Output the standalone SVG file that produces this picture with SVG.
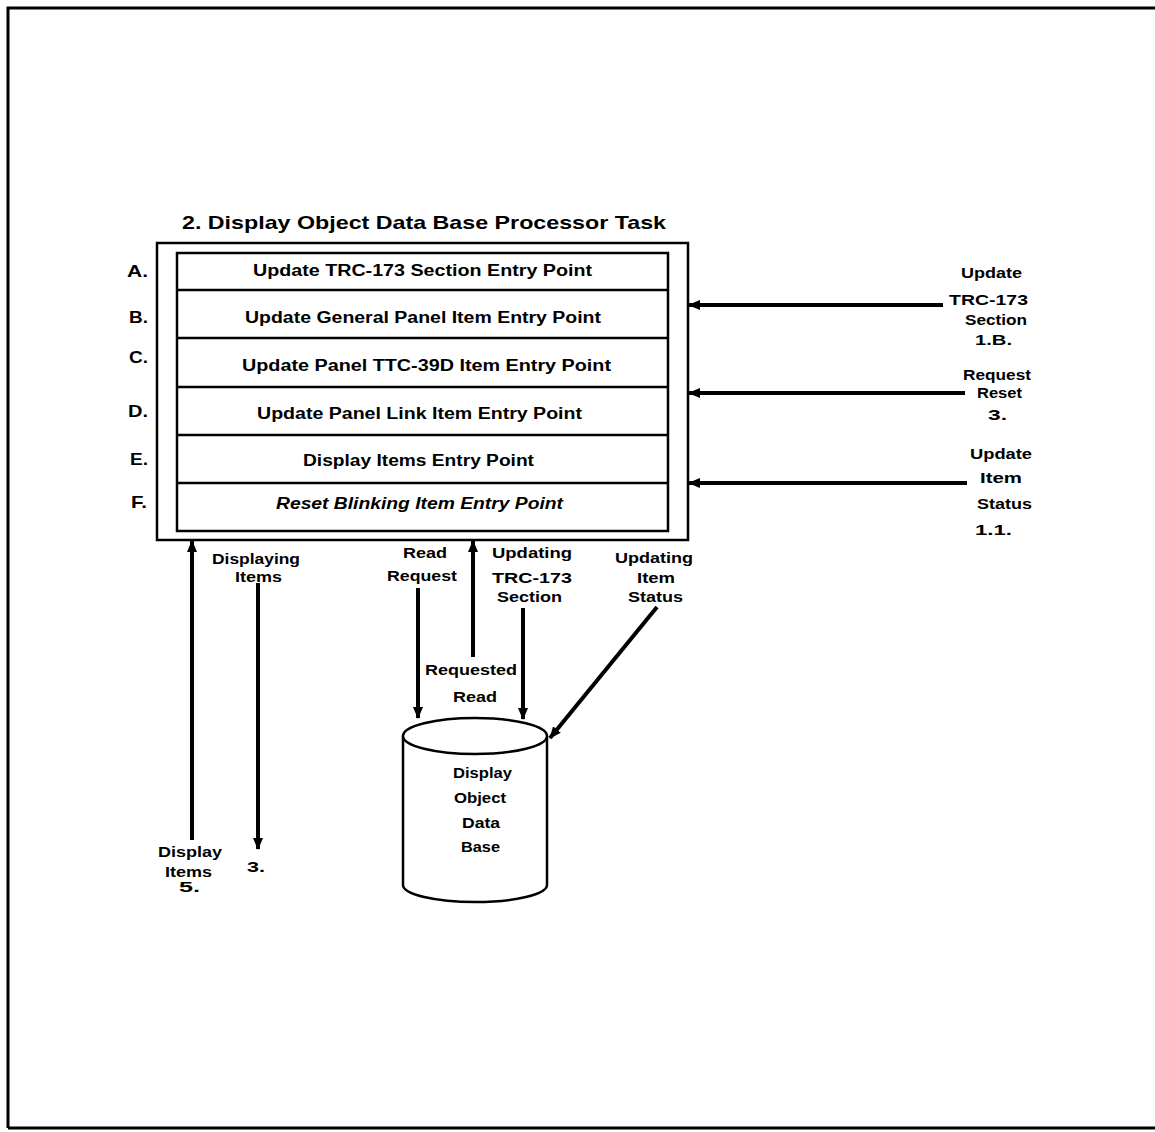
<svg xmlns="http://www.w3.org/2000/svg" width="1155" height="1132" viewBox="0 0 1155 1132">
<style>
text{font-family:"Liberation Sans",Arial,sans-serif;font-weight:bold;fill:#000}
.t{font-size:16px}
.s{font-size:15px}
.lbl{font-size:17px}
.title{font-size:19px}
.box{fill:#fff;stroke:#000;stroke-width:2.5}
.div{stroke:#000;stroke-width:2.5}
.conn{stroke:#000;stroke-width:4;fill:none}
</style>
<defs>
<marker id="ah" markerWidth="12" markerHeight="10" refX="11" refY="5" orient="auto" markerUnits="userSpaceOnUse">
<path d="M0,0 L12,5 L0,10 z" fill="#000"/>
</marker>
</defs>
<rect x="0" y="0" width="1155" height="1132" fill="#fff"/>
<path d="M8,1128 L8,8 L1160,8 M8,1128 L1160,1128" fill="none" stroke="#000" stroke-width="3"/>

<g id="task">
<text class="title" x="182" y="229" textLength="484" lengthAdjust="spacingAndGlyphs">2. Display Object Data Base Processor Task</text>
<rect class="box" x="157" y="243" width="531" height="297"/>
<rect class="box" x="177" y="253" width="491" height="278"/>
</g>

<g id="rowA">
<text class="lbl" x="127" y="277" textLength="21" lengthAdjust="spacingAndGlyphs">A.</text>
<text class="t" x="253" y="276" textLength="339" lengthAdjust="spacingAndGlyphs">Update TRC-173 Section Entry Point</text>
</g>
<g id="rowB">
<line class="div" x1="177" y1="290" x2="668" y2="290"/>
<text class="lbl" x="129" y="323" textLength="19" lengthAdjust="spacingAndGlyphs">B.</text>
<text class="t" x="245" y="323" textLength="356" lengthAdjust="spacingAndGlyphs">Update General Panel Item Entry Point</text>
</g>
<g id="rowC">
<line class="div" x1="177" y1="338" x2="668" y2="338"/>
<text class="lbl" x="129" y="363" textLength="19" lengthAdjust="spacingAndGlyphs">C.</text>
<text class="t" x="242" y="371" textLength="369" lengthAdjust="spacingAndGlyphs">Update Panel TTC-39D Item Entry Point</text>
</g>
<g id="rowD">
<line class="div" x1="177" y1="387" x2="668" y2="387"/>
<text class="lbl" x="128" y="417" textLength="20" lengthAdjust="spacingAndGlyphs">D.</text>
<text class="t" x="257" y="419" textLength="325" lengthAdjust="spacingAndGlyphs">Update Panel Link Item Entry Point</text>
</g>
<g id="rowE">
<line class="div" x1="177" y1="435" x2="668" y2="435"/>
<text class="lbl" x="130" y="465" textLength="18" lengthAdjust="spacingAndGlyphs">E.</text>
<text class="t" x="303" y="466" textLength="231" lengthAdjust="spacingAndGlyphs">Display Items Entry Point</text>
</g>
<g id="rowF">
<line class="div" x1="177" y1="483" x2="668" y2="483"/>
<text class="lbl" x="131" y="508" textLength="16" lengthAdjust="spacingAndGlyphs">F.</text>
<text class="t" x="276" y="509" font-style="italic" textLength="287" lengthAdjust="spacingAndGlyphs">Reset Blinking Item Entry Point</text>
</g>

<g id="database">
<path d="M403,736 L403,885 A72,17 0 0 0 547,885 L547,736" fill="#fff" stroke="#000" stroke-width="2.5"/>
<ellipse cx="475" cy="736" rx="72" ry="18" fill="#fff" stroke="#000" stroke-width="2.5"/>
<text class="s" x="453" y="778" textLength="59" lengthAdjust="spacingAndGlyphs">Display</text>
<text class="s" x="454" y="803" textLength="52" lengthAdjust="spacingAndGlyphs">Object</text>
<text class="s" x="462" y="828" textLength="38" lengthAdjust="spacingAndGlyphs">Data</text>
<text class="s" x="461" y="852" textLength="39" lengthAdjust="spacingAndGlyphs">Base</text>
</g>

<g id="ext-update-trc">
<text class="s" x="961" y="278" textLength="61" lengthAdjust="spacingAndGlyphs">Update</text>
<text class="s" x="949" y="305" textLength="79" lengthAdjust="spacingAndGlyphs">TRC-173</text>
<text class="s" x="965" y="325" textLength="62" lengthAdjust="spacingAndGlyphs">Section</text>
<text class="s" x="975" y="345" textLength="37" lengthAdjust="spacingAndGlyphs">1.B.</text>
</g>
<g id="ext-request-reset">
<text class="s" x="963" y="380" textLength="68" lengthAdjust="spacingAndGlyphs">Request</text>
<text class="s" x="977" y="398" textLength="45" lengthAdjust="spacingAndGlyphs">Reset</text>
<text class="s" x="988" y="420" textLength="19" lengthAdjust="spacingAndGlyphs">3.</text>
</g>
<g id="ext-update-status">
<text class="s" x="970" y="459" textLength="62" lengthAdjust="spacingAndGlyphs">Update</text>
<text class="s" x="980" y="483" textLength="42" lengthAdjust="spacingAndGlyphs">Item</text>
<text class="s" x="977" y="509" textLength="55" lengthAdjust="spacingAndGlyphs">Status</text>
<text class="s" x="975" y="535" textLength="37" lengthAdjust="spacingAndGlyphs">1.1.</text>
</g>
<g id="ext-display-items">
<text class="s" x="158" y="857" textLength="64" lengthAdjust="spacingAndGlyphs">Display</text>
<text class="s" x="165" y="877" textLength="47" lengthAdjust="spacingAndGlyphs">Items</text>
<text class="s" x="179" y="892" textLength="21" lengthAdjust="spacingAndGlyphs">5.</text>
</g>
<g id="ext-3">
<text class="s" x="247" y="872" textLength="18" lengthAdjust="spacingAndGlyphs">3.</text>
</g>

<g id="connectors">
<line class="conn" x1="943" y1="305" x2="689" y2="305" marker-end="url(#ah)"/>
<line class="conn" x1="965" y1="393" x2="689" y2="393" marker-end="url(#ah)"/>
<line class="conn" x1="967" y1="483" x2="689" y2="483" marker-end="url(#ah)"/>
<line class="conn" x1="192" y1="840" x2="192" y2="541" marker-end="url(#ah)"/>
<line class="conn" x1="258" y1="583" x2="258" y2="849" marker-end="url(#ah)"/>
<line class="conn" x1="418" y1="588" x2="418" y2="718" marker-end="url(#ah)"/>
<line class="conn" x1="473" y1="657" x2="473" y2="541" marker-end="url(#ah)"/>
<line class="conn" x1="523" y1="608" x2="523" y2="719" marker-end="url(#ah)"/>
<line class="conn" x1="657" y1="607" x2="550" y2="738" marker-end="url(#ah)"/>
<text class="s" x="212" y="564" textLength="88" lengthAdjust="spacingAndGlyphs">Displaying</text>
<text class="s" x="235" y="582" textLength="47" lengthAdjust="spacingAndGlyphs">Items</text>
<text class="s" x="403" y="558" textLength="44" lengthAdjust="spacingAndGlyphs">Read</text>
<text class="s" x="387" y="581" textLength="70" lengthAdjust="spacingAndGlyphs">Request</text>
<text class="s" x="492" y="558" textLength="80" lengthAdjust="spacingAndGlyphs">Updating</text>
<text class="s" x="492" y="583" textLength="80" lengthAdjust="spacingAndGlyphs">TRC-173</text>
<text class="s" x="497" y="602" textLength="65" lengthAdjust="spacingAndGlyphs">Section</text>
<text class="s" x="615" y="563" textLength="78" lengthAdjust="spacingAndGlyphs">Updating</text>
<text class="s" x="637" y="583" textLength="38" lengthAdjust="spacingAndGlyphs">Item</text>
<text class="s" x="628" y="602" textLength="55" lengthAdjust="spacingAndGlyphs">Status</text>
<text class="s" x="425" y="675" textLength="92" lengthAdjust="spacingAndGlyphs">Requested</text>
<text class="s" x="453" y="702" textLength="44" lengthAdjust="spacingAndGlyphs">Read</text>
</g>
</svg>
